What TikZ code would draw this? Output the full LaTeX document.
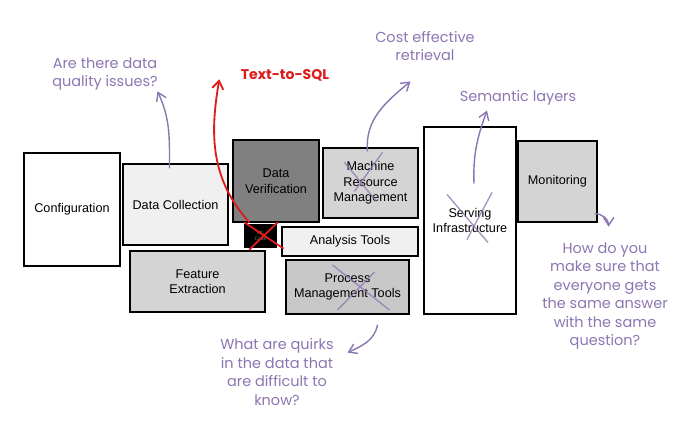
\documentclass[tikz,border=0pt]{standalone}
\usepackage{fontspec}
\setmainfont{Liberation Sans}
\newfontfamily\handfont{Poppins}
\definecolor{notepurple}{RGB}{140,118,178}
\definecolor{sqlred}{RGB}{222,28,28}
\definecolor{paleGray}{RGB}{240,240,240}
\definecolor{midGray}{RGB}{212,212,212}
\definecolor{procGray}{RGB}{200,200,200}
\definecolor{darkGray}{RGB}{128,128,128}
\usetikzlibrary{arrows.meta,positioning,calc}

\begin{document}
\begin{tikzpicture}[
  x=0.025cm,y=-0.025cm,
  font=\fontsize{9}{11}\selectfont,
  box/.style={draw=black,line width=0.9pt,fill=white,align=center,inner sep=0pt},
  note/.style={text=notepurple,align=center,font=\handfont\fontsize{10.3}{13.1}\selectfont},
  arrow/.style={-{Straight Barb[length=2mm,width=2.6mm]},line width=1pt,notepurple},
  sqlarrow/.style={-{Straight Barb[length=2mm,width=2.8mm]},line width=1.3pt,sqlred},
  cross/.style={line width=1pt,notepurple,opacity=0.75}
]
\useasboundingbox (0,0) rectangle (700,430);

% components
\node[box,minimum width=2.4cm,minimum height=2.825cm] (conf) at (72,209.5) {Configuration};
\node[box,fill=paleGray,minimum width=2.625cm,minimum height=2.025cm] (collect) at (175.5,204.5) {Data Collection};
\node[box,fill=midGray,minimum width=3.375cm,minimum height=1.525cm] (feat) at (197.5,281.5) {Feature\\Extraction};
\node[box,fill=darkGray,minimum width=2.15cm,minimum height=2.05cm] (verify) at (276,181) {Data\\Verification};
\node[box,fill=black,text=gray,font=\fontsize{3.5}{4}\selectfont,minimum width=0.775cm,minimum height=0.55cm] (mlcode) at (260.5,236) {ML\\Code};
\node[box,fill=midGray,minimum width=2.375cm,minimum height=1.75cm] (mrm) at (370.5,183) {Machine\\Resource\\Management};
\node[box,fill=paleGray,minimum width=3.4cm,minimum height=0.725cm] (analysis) at (350,241.5) {Analysis Tools};
\node[box,fill=procGray,minimum width=3.075cm,minimum height=1.35cm] (process) at (347.5,287) {Process\\Management Tools};
\node[box,minimum width=2.3cm,minimum height=4.675cm] (serving) at (470,220.5) {Serving\\Infrastructure};
\node[box,fill=midGray,minimum width=1.975cm,minimum height=2.025cm] (monitor) at (557.5,181.5) {Monitoring};

% notes
\node[note] (qquality) at (105,74) {Are there data\\quality issues?};
\node[note,text=sqlred,font=\handfont\bfseries\fontsize{10}{12}\selectfont] (qsql) at (285,75) {Text-to-SQL};
\node[note] (qcost) at (425,46) {Cost effective\\retrieval};
\node[note] (qsemantic) at (518,98) {Semantic layers};
\node[note] (qmonitor) at (605,296) {How do you\\make sure that\\everyone gets\\the same answer\\with the same\\question?};
\node[note] (qquirks) at (277,372) {What are quirks\\in the data that\\are difficult to\\know?};

% crossed out
\draw[cross] ($(mrm.north)+(-26,15)$) -- ($(mrm.north)+(6,54)$);
\draw[cross] ($(mrm.north)+(12,5)$) -- ($(mrm.north)+(-16,44)$);
\draw[cross] ($(serving.center)+(-23,-26)$) -- ($(serving.center)+(18,22)$);
\draw[cross] ($(serving.center)+(22,-28)$) -- ($(serving.center)+(-3,19)$);
\draw[cross] ($(process.center)+(-15,-22)$) -- ($(process.center)+(42,23)$);
\draw[cross] ($(process.center)+(27,-15)$) -- ($(process.center)+(-10,23)$);
\draw[sqlred,line width=1.3pt] ($(mlcode.north west)+(0,-2)$) -- ($(mlcode.south east)+(7,1)$);
\draw[sqlred,line width=1.3pt] ($(mlcode.north east)+(1,-2)$) -- ($(mlcode.south west)+(5,2)$);

% arrows
\draw[arrow] ($(collect.north)+(-6,5)$) to[out=90,in=-65] ($(collect.north)+(-18,-72)$);
\draw[sqlarrow] ($(mlcode.north west)+(5,-2)$) to[out=132,in=-100] ($(mlcode.north west)+(-25,-145)$);
\draw[arrow] ($(mrm.north)+(-3,4)$) to[out=95,in=-140] ($(mrm.north)+(40,-66)$);
\draw[arrow] ($(serving.center)+(4,-37)$) to[out=92,in=-110] ($(serving.center)+(17,-110)$);
\draw[arrow] ($(monitor.south east)+(-3,-9)$) to[out=0,in=90] ($(monitor.south east)+(11,4)$);
\draw[arrow] ($(process.south)+(30,10)$) to[out=-100,in=25] ($(process.south)+(0,38)$);
\end{tikzpicture}
\end{document}
